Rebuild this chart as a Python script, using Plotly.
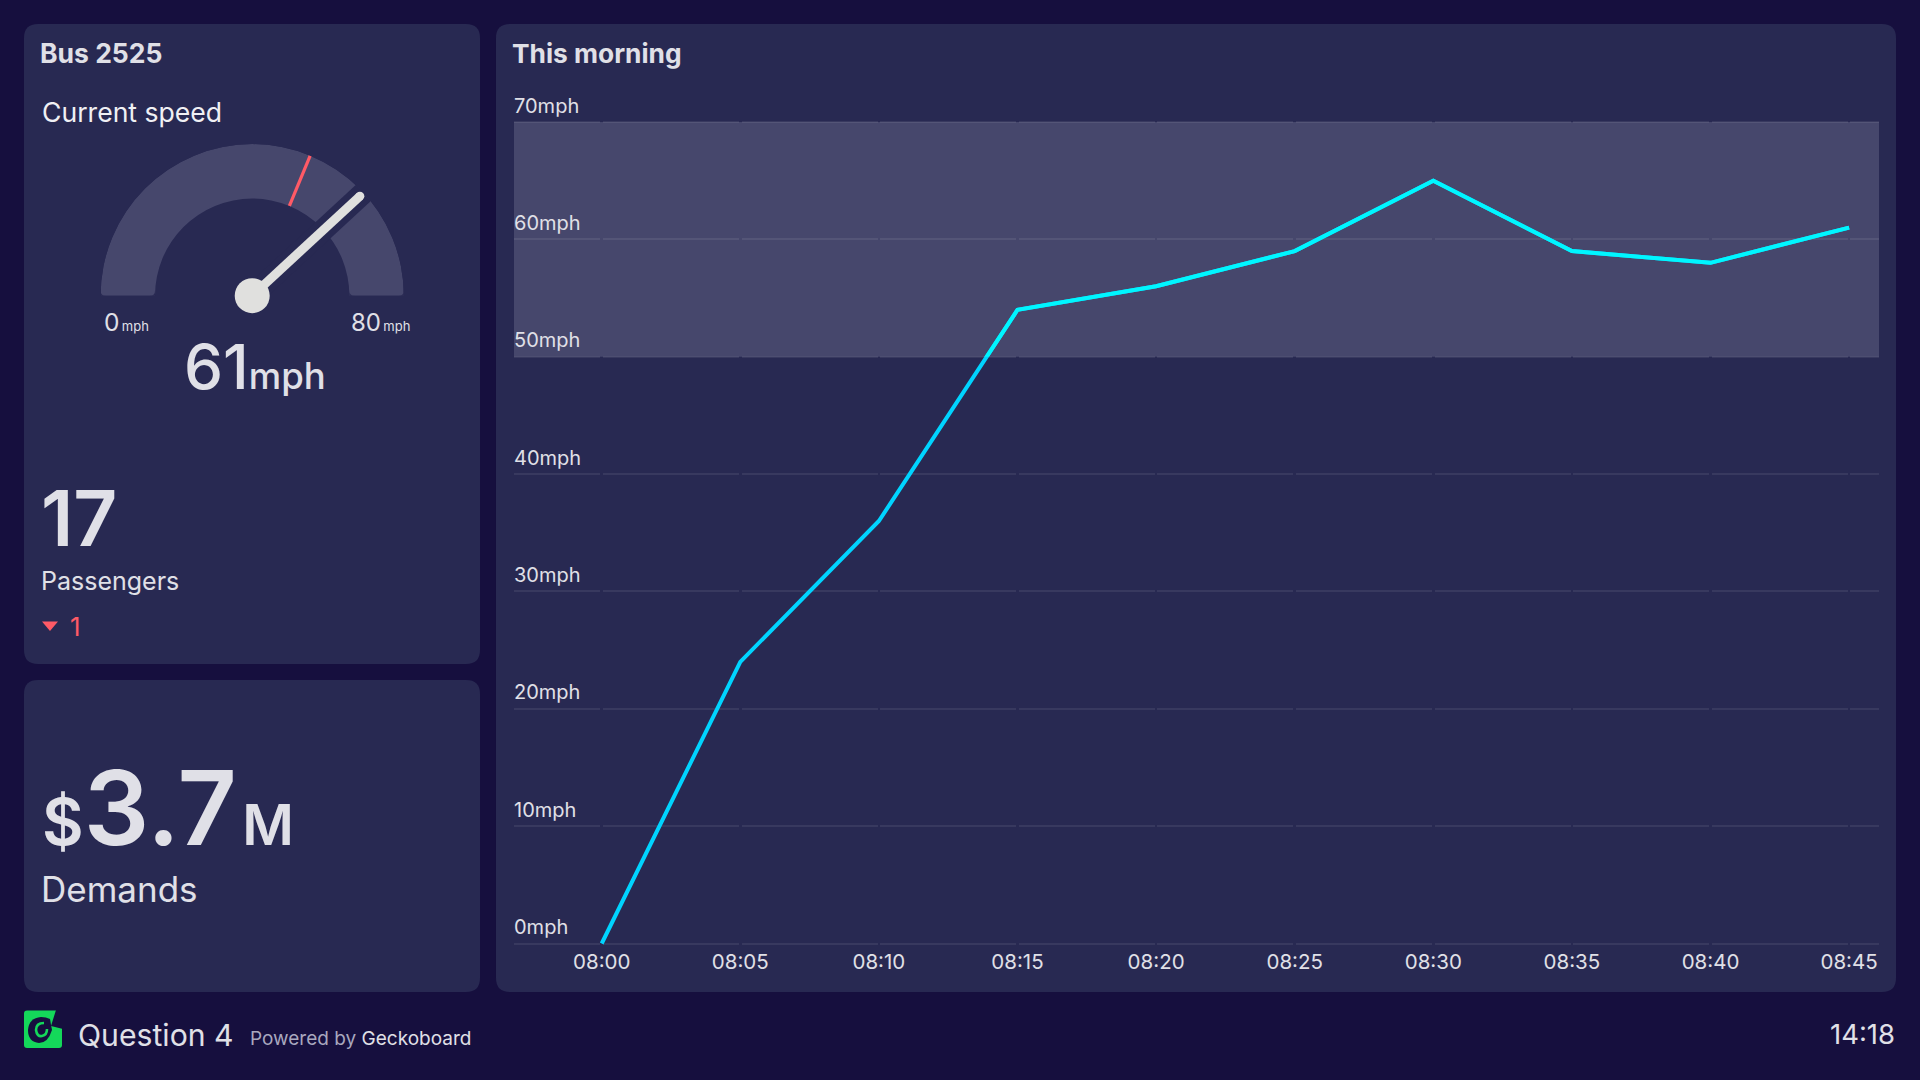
import plotly.graph_objects as go

W, H = 1920, 1080
FONT = "Inter"
BG = "#160F3E"
CARD = "#282952"
BAND = "#46476C"
TEXT = "#E0E0E7"
RED = "#FF5A66"
ARC = "#46476C"
NEEDLE = "#E0E0DE"

# chart data
time_labels = ["08:00", "08:05", "08:10", "08:15", "08:20", "08:25", "08:30", "08:35", "08:40", "08:45"]
speed_mph = [0, 24, 36, 54, 56, 59, 65, 59, 58, 61]
speed_ticks = [0, 10, 20, 30, 40, 50, 60, 70]
band_low = 50
band_high = 70

# gauge data
gauge_min = 0
gauge_max = 80
gauge_value = 61
gauge_threshold = 50


def px(x):
    return x / W


def py(y):
    return 1 - y / H


def theta(v):
    return (v - gauge_min) / (gauge_max - gauge_min) * 180


def path(pts):
    out = []
    for p in pts:
        coords = []
        for i in range(1, len(p), 2):
            coords.append(f"{px(p[i]):.5f},{py(p[i + 1]):.5f}")
        out.append(p[0] + " ".join(coords))
    return " ".join(out)


def rounded(x0, y0, x1, y1, r):
    # rounded rectangle as a paper path, input in screen pixels
    pts = [
        ("M", x0 + r, y0), ("L", x1 - r, y0), ("Q", x1, y0, x1, y0 + r), ("L", x1, y1 - r),
        ("Q", x1, y1, x1 - r, y1), ("L", x0 + r, y1), ("Q", x0, y1, x0, y1 - r), ("L", x0, y0 + r),
        ("Q", x0, y0, x0 + r, y0),
    ]
    return path(pts) + " Z"


def paper_shape(d, fill=None, line=None, width=0, layer="below"):
    return dict(type="path", xref="paper", yref="paper", path=d, layer=layer,
                fillcolor=fill or "rgba(0,0,0,0)",
                line=dict(color=line or "rgba(0,0,0,0)", width=width))


def label(x, y, text, size, color=TEXT, anchor="left", weight=400):
    return dict(xref="paper", yref="paper", x=px(x), y=py(y), text=text, showarrow=False,
                xanchor=anchor, yanchor="middle", borderpad=0, borderwidth=0,
                font=dict(family=FONT, size=size, color=color, weight=weight))


def corner_mask(x, y, dx, r=5):
    # takes the sharp corner off the feet of the gauge arc
    return paper_shape(path([("M", x, y), ("L", x + dx * r, y), ("Q", x, y, x, y - r)]) + " Z",
                       CARD, layer="above")


fig = go.Figure()

# line, full length in blue then again in brighter cyan clipped to the band
fig.add_trace(go.Scatter(x=time_labels, y=speed_mph, mode="lines", xaxis="x", yaxis="y",
                         line=dict(color="#00D4FF", width=4), hoverinfo="skip"))
fig.add_trace(go.Scatter(x=time_labels, y=speed_mph, mode="lines", xaxis="x", yaxis="y2",
                         line=dict(color="#00F6FF", width=4), hoverinfo="skip"))

# gauge
inner = 0.641
fig.add_trace(go.Barpolar(r=[1 - inner], base=[inner], theta=[theta((gauge_min + gauge_max) / 2)],
                          width=[theta(gauge_max)], marker=dict(color=ARC, line=dict(width=0)),
                          hoverinfo="skip"))
fig.add_trace(go.Scatterpolar(r=[inner, 1], theta=[theta(gauge_threshold)] * 2, mode="lines",
                              line=dict(color=RED, width=3.2), hoverinfo="skip"))
fig.add_trace(go.Scatterpolar(r=[0, 1.06], theta=[theta(gauge_value)] * 2, mode="lines",
                              line=dict(color=CARD, width=22), hoverinfo="skip", cliponaxis=False))
fig.add_trace(go.Scatterpolar(r=[0, 0.967], theta=[theta(gauge_value)] * 2, mode="lines+markers",
                              line=dict(color=NEEDLE, width=9), marker=dict(color=NEEDLE, size=9),
                              hoverinfo="skip", cliponaxis=False))
fig.add_trace(go.Scatterpolar(r=[0], theta=[0], mode="markers", marker=dict(color=NEEDLE, size=35),
                              hoverinfo="skip", cliponaxis=False))

# gaps in the gridlines at each time tick
plot_left, plot_right = 514, 1879
first_tick, tick_step, gap = 601.7, 138.6, 2.5
dash = [first_tick - plot_left - gap / 2, gap]
for _ in range(len(time_labels) - 1):
    dash += [tick_step - gap, gap]
dash.append(plot_right - plot_left)
griddash = ",".join(f"{d:.2f}px" for d in dash)

y0_px, y70_px = 943.5, 122
px_per_mph = (y0_px - y70_px) / band_high
y50_px = y0_px - band_low * px_per_mph
# small pad so plotly keeps the gridlines at both ends of the range
pad = 0.2

gauge_cx, gauge_cy, gauge_r = 252.2, 295.7, 151.6

shapes = [
    paper_shape(rounded(24, 24, 480, 664, 14), CARD),
    paper_shape(rounded(24, 680, 480, 992, 14), CARD),
    paper_shape(rounded(496, 24, 1896, 992, 14), CARD),
    dict(type="rect", xref="x domain", yref="y", x0=0, x1=1, y0=band_low, y1=band_high,
         fillcolor=BAND, line=dict(width=0), layer="below"),
    # passengers delta triangle
    paper_shape(path([("M", 42, 621.5), ("L", 58, 621.5), ("L", 50, 631)]) + " Z", RED),
    # logo
    paper_shape(rounded(24, 1010.5, 62, 1048, 3), "#14D85A"),
    paper_shape(path([("M", 56, 1010), ("L", 63, 1010), ("L", 63, 1029), ("L", 51, 1026)]) + " Z", BG),
    paper_shape(path([("M", 50, 1019), ("L", 52, 1030), ("Q", 48, 1043, 39, 1043),
                      ("Q", 28, 1042, 28, 1030), ("Q", 29, 1018, 41, 1017), ("Q", 46, 1017, 50, 1019)]) + " Z", BG),
    paper_shape(path([("M", 44, 1023), ("Q", 36, 1023, 36, 1030), ("Q", 37, 1037, 42, 1036),
                      ("Q", 47, 1035, 47, 1029)]),
                None, "#14D85A", 2.6),
    # feet of the gauge arc
    corner_mask(gauge_cx - gauge_r, gauge_cy, 1),
    corner_mask(gauge_cx + gauge_r, gauge_cy, -1),
    corner_mask(gauge_cx - gauge_r * inner, gauge_cy, -1),
    corner_mask(gauge_cx + gauge_r * inner, gauge_cy, 1),
]

annotations = [
    label(40, 53, "Bus 2525", 26.5, weight=700),
    label(42, 111.5, "Current speed", 26.6, "#F0F0F4"),
    label(104, 322, '0<span style="font-size:13px">\u2009mph</span>', 24.5),
    label(351, 322, '80<span style="font-size:13px">\u2009mph</span>', 24),
    label(184, 366, '61<span style="font-size:36.5px">mph</span>', 62, weight=500),
    label(41, 518, "17", 76.5, weight=600),
    label(41, 581, "Passengers", 25),
    label(70, 626, "1", 26, RED),
    label(42, 807, '$<span style="font-size:103px">3.7</span>\u200a<span style="font-size:56px">M</span>', 64, weight=600),
    label(41, 889, "Demands", 35),
    label(78, 1034.5, "Question 4", 30.2),
    label(250, 1038.5, 'Powered by <span style="color:#E0E0E7">Geckoboard</span>', 19, "#A9A8BE"),
    label(1895, 1034, "14:18", 27.5, anchor="right"),
    label(512, 53.5, "This morning", 26.3, weight=700),
]

# speed labels sit left aligned just above their gridline
for v in speed_ticks:
    annotations.append(dict(xref="x domain", yref="y", x=0, y=v, yshift=16.5, xshift=-1, text=f"{v}mph",
                            showarrow=False, xanchor="left", yanchor="middle", borderpad=0,
                            font=dict(family=FONT, size=20, color=TEXT)))

fig.update_layout(
    width=W, height=H,
    margin=dict(l=0, r=0, t=0, b=0),
    paper_bgcolor=BG, plot_bgcolor="rgba(0,0,0,0)",
    showlegend=False,
    font=dict(family=FONT, color=TEXT),
    shapes=shapes,
    annotations=annotations,
    xaxis=dict(domain=[px(plot_left), px(plot_right)], anchor="y", type="category",
               range=[(plot_left - first_tick) / tick_step, (plot_right - first_tick) / tick_step],
               showgrid=False, zeroline=False, showline=False, ticks="",
               tickfont=dict(family=FONT, size=20.5, color=TEXT), ticklabelstandoff=2),
    yaxis=dict(domain=[py(y0_px + pad * px_per_mph), py(y70_px - pad * px_per_mph)], anchor="x",
               range=[-pad, band_high + pad], tickvals=speed_ticks, showticklabels=False,
               showgrid=True, gridcolor="rgba(255,255,255,0.08)", gridwidth=1.5, griddash=griddash,
               zeroline=False, showline=False, ticks=""),
    yaxis2=dict(domain=[py(y50_px), py(y70_px)], anchor="x", range=[band_low, band_high], visible=False),
    polar=dict(
        domain=dict(x=[px(gauge_cx - gauge_r), px(gauge_cx + gauge_r)],
                    y=[py(gauge_cy), py(gauge_cy - gauge_r)]),
        sector=[0, 180],
        bgcolor="rgba(0,0,0,0)",
        radialaxis=dict(range=[0, 1], visible=False),
        angularaxis=dict(visible=False, rotation=180, direction="clockwise", thetaunit="degrees"),
        bargap=0,
    ),
)

fig.write_html("out.html", config=dict(displayModeBar=False),
               post_script="document.body.style.margin='0';document.body.style.background='#160F3E';")
